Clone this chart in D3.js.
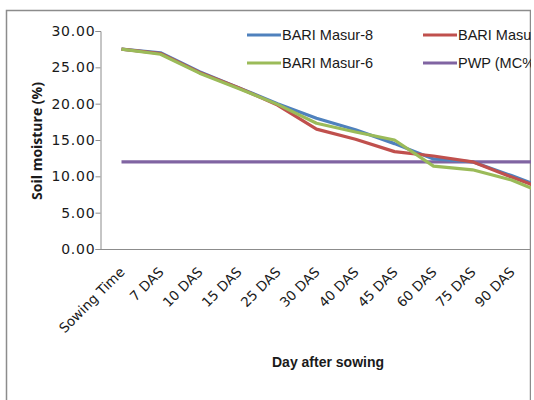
<!DOCTYPE html>
<html>
<head>
<meta charset="utf-8">
<script src="https://cdn.jsdelivr.net/npm/d3@7"></script>
<style>
body { margin: 0; background: #fff; }
text { font-family: "Liberation Sans", Arial, sans-serif; fill: #1a1a1a; }
</style>
</head>
<body>
<svg id="svg"></svg>
<script>
var width = 534, height = 400;

// last category lies past the cropped right edge, its label is not visible
var categories = ["Sowing Time", "7 DAS", "10 DAS", "15 DAS", "25 DAS", "30 DAS",
	"40 DAS", "45 DAS", "60 DAS", "75 DAS", "90 DAS", ""];
var masur8 = [27.5, 27.0, 24.4, 22.2, 20.0, 18.0, 16.4, 14.5, 12.4, 12.0, 10.1, 8.1];
var masur7 = [27.5, 26.9, 24.3, 22.2, 19.8, 16.5, 15.1, 13.4, 12.8, 12.0, 9.9, 7.9];
var masur6 = [27.5, 26.8, 24.2, 22.1, 19.9, 17.3, 16.1, 15.0, 11.4, 10.9, 9.5, 7.3];
var pwp = [12, 12, 12, 12, 12, 12, 12, 12, 12, 12, 12, 12];
var seriesNames = ["BARI Masur-8", "BARI Masur-7", "BARI Masur-6", "PWP (MC%)"];
var colors = ["#4f81bd", "#c0504d", "#9bbb59", "#8064a2"];
var yTicks = [0, 5, 10, 15, 20, 25, 30];

var svg = d3.select("#svg")
	.attr("width", width)
	.attr("height", height);

svg.append("clipPath").attr("id", "clip")
	.append("rect").attr("x", 0).attr("y", 0).attr("width", 531).attr("height", height);

var g = svg.append("g").attr("clip-path", "url(#clip)");

// chart border
g.append("rect")
	.attr("x", 6.5).attr("y", 10.5)
	.attr("width", 524).attr("height", 400)
	.style("fill", "none")
	.style("stroke", "#8c8c8c")
	.style("stroke-width", 1.5);

var x = d3.scalePoint()
	.domain(categories)
	.range([121.5, 550.5]);
var y = d3.scaleLinear()
	.domain([0, 30])
	.range([249, 31]);

var yAxis = d3.axisLeft(y)
	.tickValues(yTicks)
	.tickSize(5)
	.tickFormat(d3.format(".2f"));
var ya = g.append("g")
	.attr("transform", "translate(100.5,0)")
	.call(yAxis);
ya.select(".domain").style("stroke", "#8c8c8c");
ya.selectAll(".tick line").style("stroke", "#8c8c8c");
ya.selectAll(".tick text")
	.attr("x", -5)
	.style("font-size", "14px")
	.style("letter-spacing", "0.8px")
	.style("font-family", "DejaVu Sans, sans-serif")
	.style("fill", "#1a1a1a");

// x axis line
g.append("line")
	.attr("x1", 100).attr("x2", 531)
	.attr("y1", y(0) + 0.5).attr("y2", y(0) + 0.5)
	.style("stroke", "#8c8c8c");

g.selectAll(".xlab")
	.data(categories)
	.enter()
	.append("text")
	.attr("class", "xlab")
	.attr("transform", function(d) { return "translate(" + (x(d) + 4) + ",273) rotate(-45)"; })
	.style("text-anchor", "end")
	.style("font-family", "DejaVu Sans, sans-serif")
	.style("font-size", "13.5px")
	.text(function(d) { return d; });

var line = d3.line()
	.x(function(d, i) { return x(categories[i]); })
	.y(function(d) { return y(d); });

var allSeries = [masur8, masur7, masur6, pwp];
var drawOrder = [3, 0, 1, 2];
drawOrder.forEach(function(k)
{
	g.append("path")
		.datum(allSeries[k])
		.attr("d", line)
		.style("fill", "none")
		.style("stroke", colors[k])
		.style("stroke-width", 3.2)
		.style("stroke-linejoin", "round");
});

// legend
var legendPos = [[247, 35], [423, 35], [247, 63], [423, 63]];
seriesNames.forEach(function(name, k)
{
	var p = legendPos[k];
	g.append("line")
		.attr("x1", p[0]).attr("x2", p[0] + 34)
		.attr("y1", p[1]).attr("y2", p[1])
		.style("stroke", colors[k])
		.style("stroke-width", 3.2);
	g.append("text")
		.attr("x", p[0] + 35)
		.attr("y", p[1] + 5)
		.style("font-size", "14.5px")
		.text(name);
});

g.append("text")
	.attr("transform", "translate(42,141) rotate(-90)")
	.style("text-anchor", "middle")
	.style("font-family", "Open Sans, sans-serif")
	.style("font-size", "14px")
	.style("font-weight", "bold")
	.text("Soil moisture (%)");

g.append("text")
	.attr("x", 328)
	.attr("y", 367)
	.style("text-anchor", "middle")
	.style("font-size", "14px")
	.style("font-weight", "bold")
	.text("Day after sowing");
</script>
</body>
</html>
